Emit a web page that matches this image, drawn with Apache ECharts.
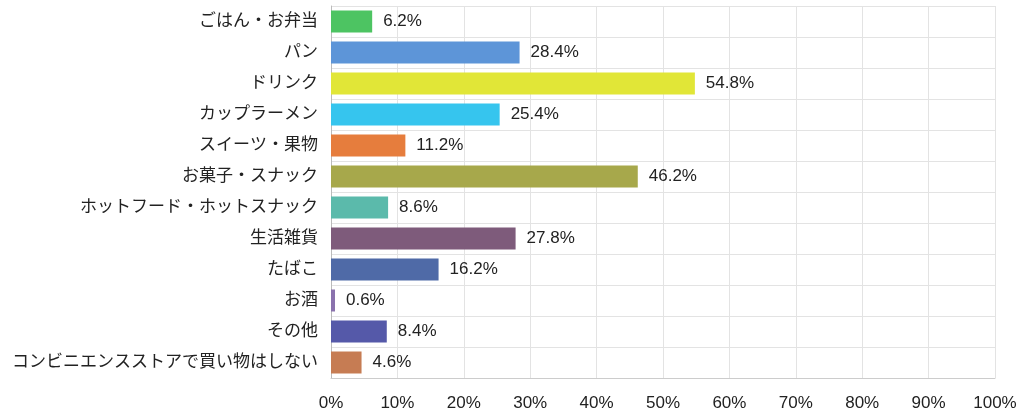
<!DOCTYPE html>
<html><head><meta charset="utf-8">
<script src="https://cdn.jsdelivr.net/npm/echarts@6/dist/echarts.min.js"></script>
<style>html,body{margin:0;padding:0;background:#fff}#c{width:1024px;height:416px}</style>
</head><body><div id="c"></div>
<script>
const categories = ["ごはん・お弁当","パン","ドリンク","カップラーメン","スイーツ・果物","お菓子・スナック","ホットフード・ホットスナック","生活雑貨","たばこ","お酒","その他","コンビニエンスストアで買い物はしない"];
const values = [6.2, 28.4, 54.8, 25.4, 11.2, 46.2, 8.6, 27.8, 16.2, 0.6, 8.4, 4.6];
const colors = ["#4dc462","#5d95d8","#e1e637","#36c5ee","#e67d3d","#a7a84b","#5bbaab","#7e5b7b","#4f6aa7","#8a72ad","#5559a9","#c67c53"];
const xTicks = [0,10,20,30,40,50,60,70,80,90,100];
const FONT = "'Liberation Sans', 'Noto Sans CJK JP', sans-serif";

const chart = echarts.init(document.getElementById('c'));
chart.setOption({
  animation:false,
  grid:{left:331,right:29,top:6,bottom:38,containLabel:false},
  xAxis:{type:'value',min:0,max:100,interval:10,
    axisLine:{show:true,lineStyle:{color:'#cccccc'}},
    axisTick:{show:false},
    axisLabel:{formatter:v=>v+'%',color:'#222',fontSize:17,margin:17,fontFamily:FONT},
    splitLine:{show:true,lineStyle:{color:'#e3e3e3'}}},
  yAxis:{type:'category',data:categories,inverse:true,
    axisLine:{show:true,lineStyle:{color:'#bbbbbb'}},
    axisTick:{show:false},
    axisLabel:{color:'#222',fontSize:17,margin:13,fontFamily:FONT},
    splitLine:{show:true,lineStyle:{color:'#e3e3e3'}}},
  series:[{type:'bar',barWidth:22,
    data:values.map((v,i)=>({value:v,itemStyle:{color:colors[i]}})),
    label:{show:true,position:'right',distance:11,formatter:p=>p.value+'%',color:'#222',fontSize:17,fontFamily:FONT}
  }]
});
</script></body></html>
